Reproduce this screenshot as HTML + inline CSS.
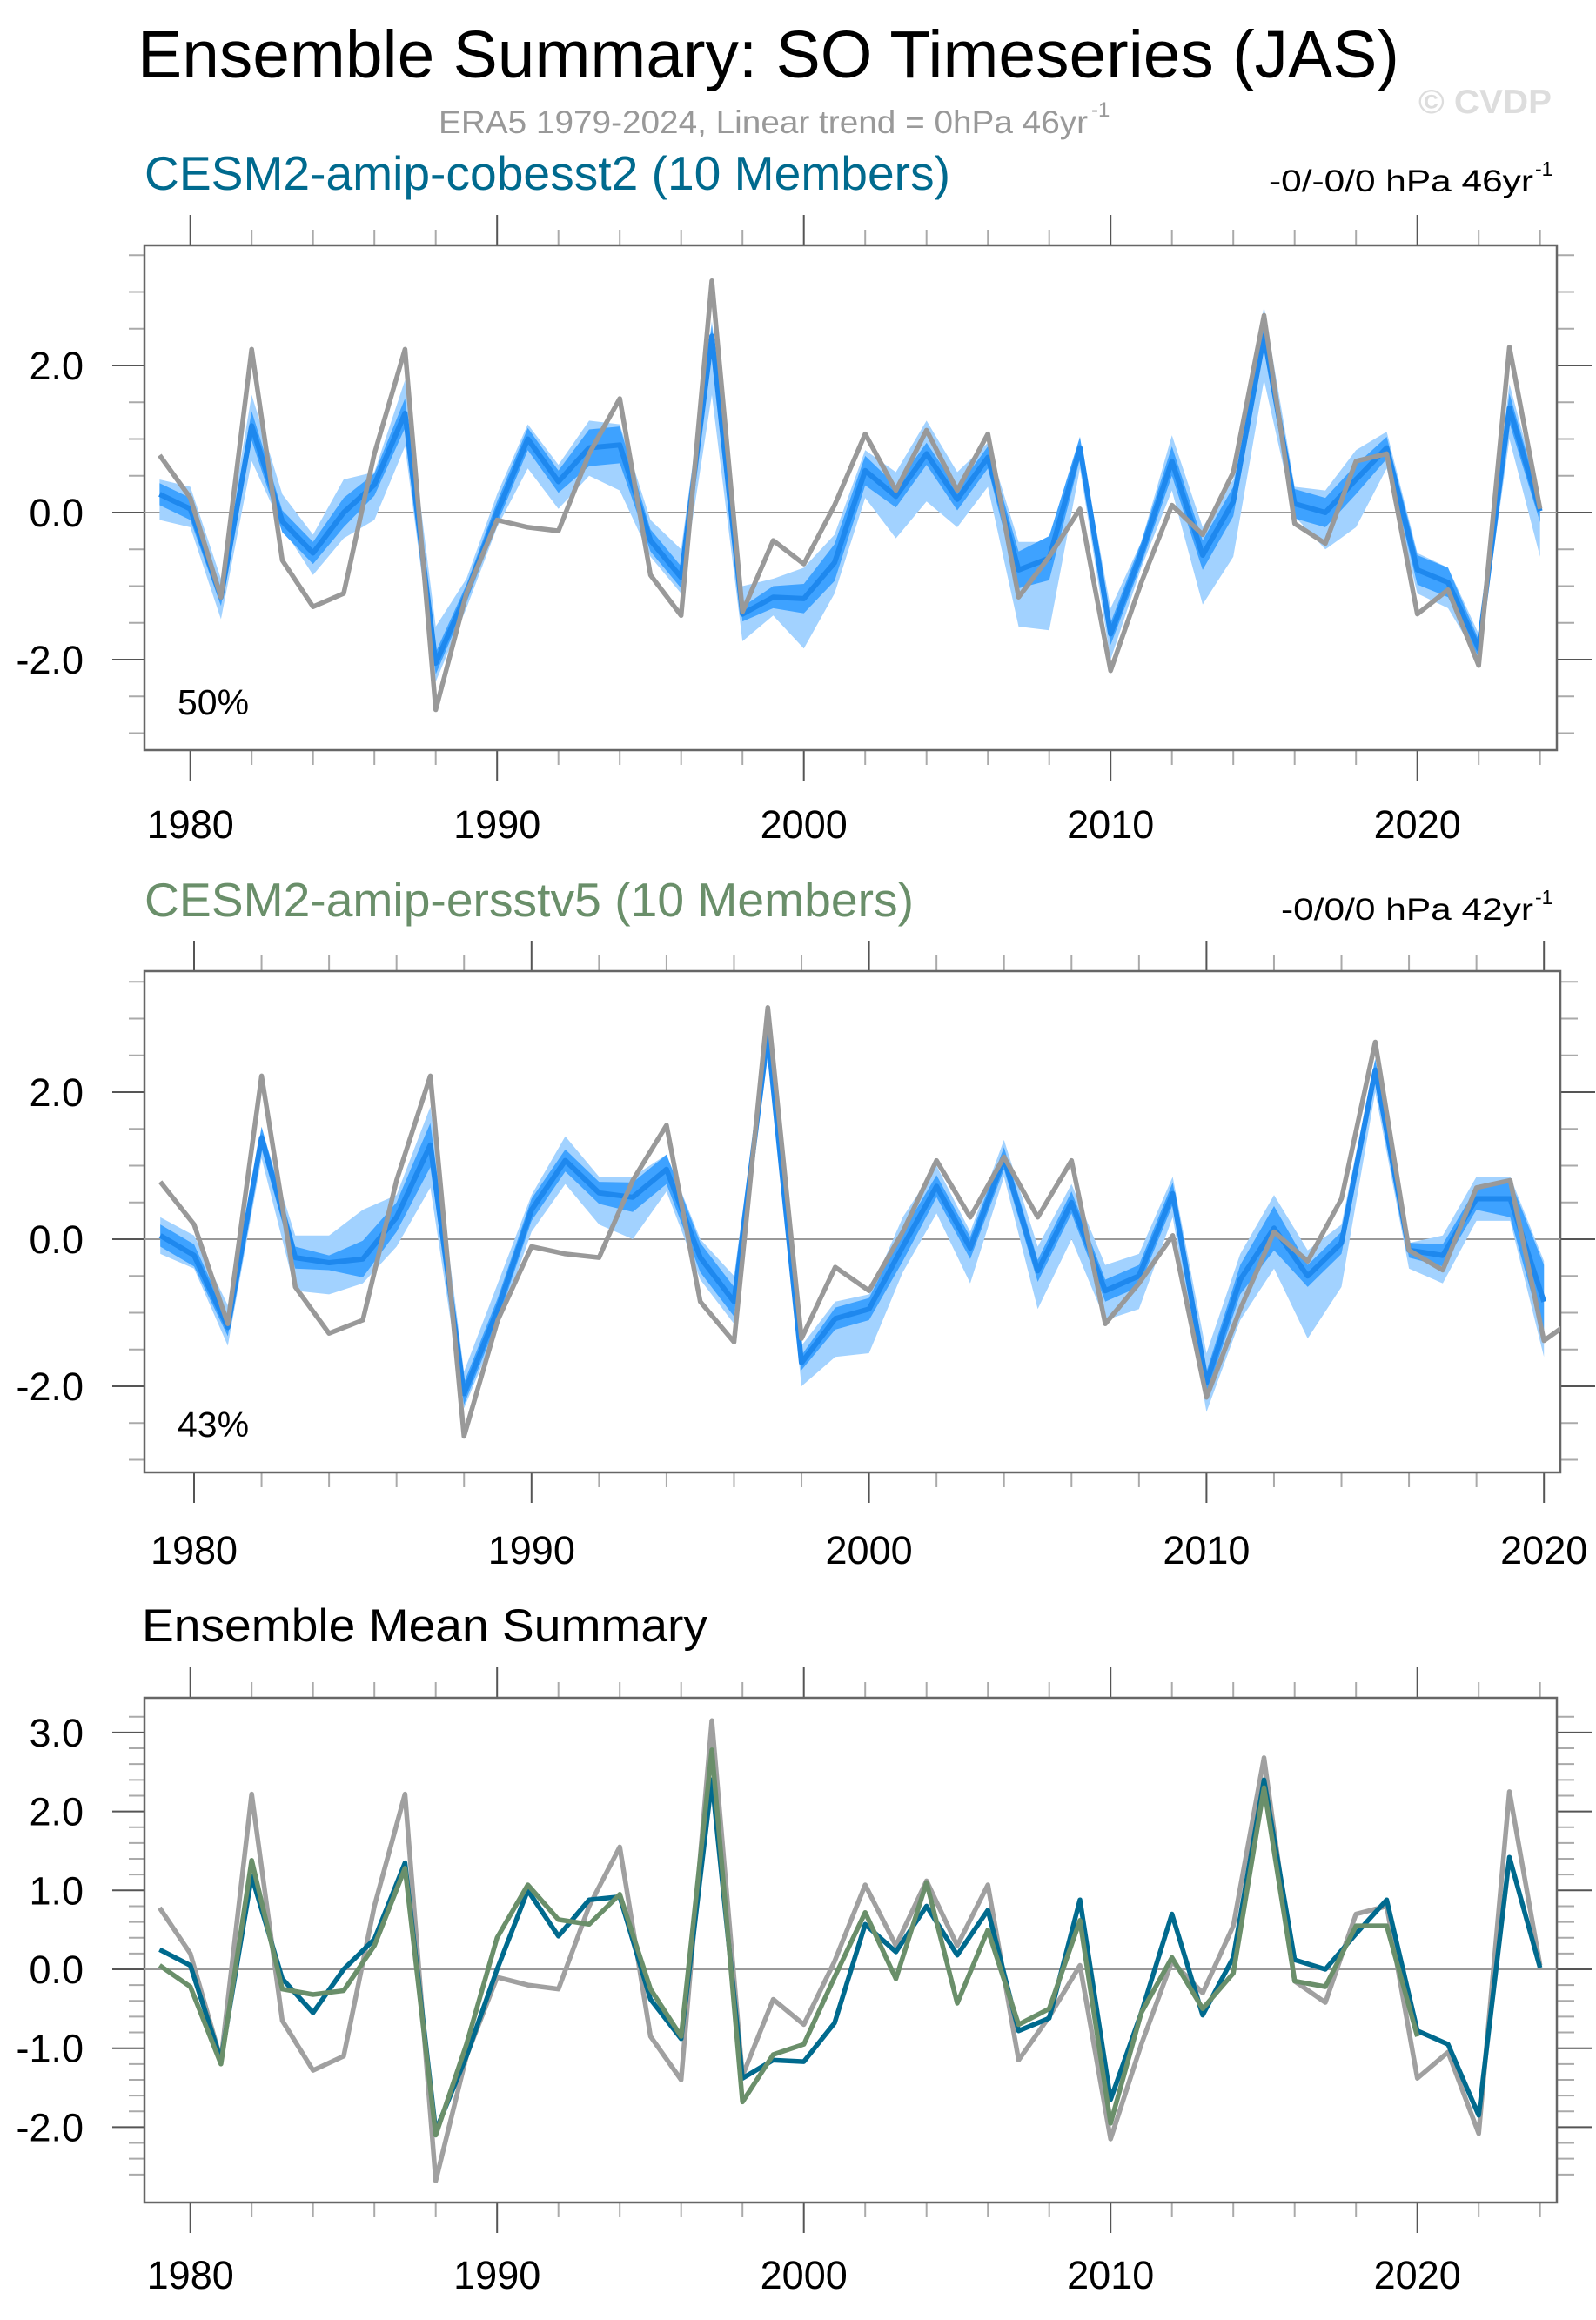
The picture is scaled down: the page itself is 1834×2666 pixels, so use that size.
<!DOCTYPE html>
<html><head><meta charset="utf-8"><style>
html,body{margin:0;padding:0;background:#fff;}
svg{display:block;font-family:"Liberation Sans",Arial,sans-serif;}
</style></head><body>
<svg id="chart" width="1834" height="2666" viewBox="0 0 1834 2666" xmlns="http://www.w3.org/2000/svg">
<text x="158" y="89" font-size="77" textLength="1450" lengthAdjust="spacingAndGlyphs">Ensemble Summary: SO Timeseries (JAS)</text>
<text x="504" y="153" font-size="37" fill="#999" textLength="746" lengthAdjust="spacingAndGlyphs">ERA5 1979-2024, Linear trend = 0hPa 46yr</text>
<text x="1254" y="134" font-size="24" fill="#999">-1</text>
<text x="1630" y="130" font-size="39" font-weight="bold" fill="#dddddd" textLength="153" lengthAdjust="spacingAndGlyphs">© CVDP</text>

<text x="166" y="218" font-size="55" fill="#006a8e" textLength="926" lengthAdjust="spacingAndGlyphs">CESM2-amip-cobesst2 (10 Members)</text>
<text x="1458" y="220" font-size="35" textLength="304" lengthAdjust="spacingAndGlyphs">-0/-0/0 hPa 46yr</text>
<text x="1764" y="202" font-size="23">-1</text>

<text x="166" y="1053" font-size="55" fill="#6a8f6a" textLength="884" lengthAdjust="spacingAndGlyphs">CESM2-amip-ersstv5 (10 Members)</text>
<text x="1472" y="1057" font-size="35" textLength="290" lengthAdjust="spacingAndGlyphs">-0/0/0 hPa 42yr</text>
<text x="1764" y="1039" font-size="23">-1</text>

<text x="163" y="1886" font-size="53" textLength="650" lengthAdjust="spacingAndGlyphs">Ensemble Mean Summary</text>
</svg>
<script>
// ---- data ----
const yearsERA = [1979,1980,1981,1982,1983,1984,1985,1986,1987,1988,1989,1990,1991,1992,1993,1994,1995,1996,1997,1998,1999,2000,2001,2002,2003,2004,2005,2006,2007,2008,2009,2010,2011,2012,2013,2014,2015,2016,2017,2018,2019,2020,2021,2022,2023,2024];
const era5 = [0.78,0.2,-1.15,2.22,-0.65,-1.28,-1.1,0.8,2.22,-2.68,-1.1,-0.1,-0.2,-0.25,0.8,1.55,-0.85,-1.4,3.15,-1.35,-0.38,-0.7,0.1,1.07,0.3,1.12,0.3,1.07,-1.15,-0.6,0.05,-2.15,-0.95,0.1,-0.3,0.55,2.68,-0.15,-0.42,0.7,0.8,-1.38,-1.05,-2.08,2.25,0.05];
const cobeMean = [0.25,0.05,-1.15,1.18,-0.12,-0.55,0.0,0.38,1.35,-2.05,-1.1,0.0,1.0,0.42,0.88,0.92,-0.38,-0.88,2.4,-1.38,-1.15,-1.17,-0.68,0.57,0.22,0.8,0.18,0.75,-0.78,-0.62,0.88,-1.65,-0.55,0.7,-0.58,0.15,2.4,0.12,0.0,0.45,0.88,-0.78,-0.95,-1.85,1.42,0.02];
const cobeOuterHi = [0.45,0.35,-0.9,1.6,0.25,-0.3,0.45,0.55,1.8,-1.55,-0.9,0.25,1.2,0.65,1.25,1.2,-0.1,-0.5,2.6,-1.0,-0.9,-0.75,-0.3,0.85,0.55,1.25,0.55,0.95,-0.4,-0.4,1.0,-1.3,-0.4,1.05,-0.2,0.45,2.8,0.35,0.3,0.85,1.1,-0.55,-0.75,-1.65,1.75,0.2];
const cobeOuterLo = [-0.1,-0.2,-1.45,0.7,-0.2,-0.85,-0.35,-0.1,0.9,-2.3,-1.3,-0.2,0.6,0.05,0.5,0.3,-0.6,-1.1,1.6,-1.75,-1.4,-1.85,-1.1,0.2,-0.35,0.15,-0.2,0.35,-1.55,-1.6,0.6,-2.0,-0.75,0.3,-1.25,-0.6,1.8,-0.05,-0.5,-0.2,0.6,-1.1,-1.3,-2.0,1.0,-0.6];
const cobeInnerHalf = [0.15,0.15,0.12,0.2,0.15,0.15,0.2,0.15,0.2,0.15,0.12,0.15,0.15,0.15,0.25,0.25,0.15,0.15,0.15,0.1,0.15,0.2,0.25,0.2,0.15,0.15,0.15,0.15,0.25,0.3,0.15,0.15,0.15,0.2,0.2,0.2,0.15,0.2,0.2,0.2,0.15,0.2,0.2,0.12,0.2,0.15];
const yearsERS = [1979,1980,1981,1982,1983,1984,1985,1986,1987,1988,1989,1990,1991,1992,1993,1994,1995,1996,1997,1998,1999,2000,2001,2002,2003,2004,2005,2006,2007,2008,2009,2010,2011,2012,2013,2014,2015,2016,2017,2018,2019,2020];
const ersMean = [0.05,-0.22,-1.2,1.38,-0.25,-0.32,-0.27,0.3,1.28,-2.1,-0.95,0.4,1.07,0.63,0.57,0.95,-0.25,-0.85,2.78,-1.68,-1.08,-0.95,-0.1,0.72,-0.12,1.1,-0.43,0.5,-0.7,-0.5,0.62,-1.95,-0.55,0.15,-0.5,-0.05,2.3,-0.15,-0.22,0.55,0.55,-0.85];
const ersOuterHi = [0.3,0.05,-0.9,1.5,0.05,0.05,0.4,0.6,1.8,-1.8,-0.6,0.6,1.4,0.85,0.85,1.15,0.0,-0.5,2.95,-1.45,-0.85,-0.75,0.3,1.0,0.1,1.35,-0.1,0.75,-0.35,-0.2,0.85,-1.55,-0.2,0.6,-0.15,0.2,2.45,-0.05,0.05,0.85,0.85,-0.3];
const ersOuterLo = [-0.2,-0.4,-1.45,1.1,-0.7,-0.75,-0.6,-0.1,0.7,-2.3,-1.2,0.1,0.75,0.2,0.0,0.65,-0.55,-1.15,2.5,-2.0,-1.6,-1.55,-0.45,0.35,-0.6,0.85,-0.95,0.0,-1.1,-0.95,0.3,-2.35,-1.1,-0.4,-1.35,-0.65,2.0,-0.4,-0.6,0.25,0.25,-1.6];
const ersInnerHalf = [0.15,0.15,0.12,0.15,0.15,0.1,0.25,0.2,0.3,0.15,0.15,0.15,0.15,0.15,0.2,0.2,0.2,0.2,0.15,0.1,0.15,0.15,0.2,0.15,0.15,0.15,0.15,0.15,0.15,0.15,0.15,0.15,0.2,0.3,0.15,0.15,0.15,0.1,0.15,0.15,0.25,0.5];
const yLabels12 = ["2.0","0.0","-2.0"];
const yLabelVals12 = [2,0,-2];
const yLabels3 = ["3.0","2.0","1.0","0.0","-1.0","-2.0"];
const yLabelVals3 = [3,2,1,0,-1,-2];
const xLabels = ["1980","1990","2000","2010","2020"];
const xLabelVals = [1980,1990,2000,2010,2020];

const NS = "http://www.w3.org/2000/svg";
const svg = document.getElementById('chart');
function mk(tag, attrs, parent){const e=document.createElementNS(NS,tag);for(const k in attrs)e.setAttribute(k,attrs[k]);(parent||svg).appendChild(e);return e;}

function panel(p){
  const g = mk('g',{});
  
  
  const X = yr => p.x1980 + (yr-1980)*p.pxYear;
  const Y = v => p.y0 - v*p.pxUnit;
  const clipId = p.name+'-clip';
  const cp = mk('clipPath',{id:clipId},g);
  mk('rect',{x:p.L,y:p.T,width:p.R-p.L,height:p.B-p.T},cp);
  for(let yr=p.tickStart; yr<=p.tickEnd; yr+=2){
    const x=X(yr); if(x<p.L-1||x>p.R+1) continue;
    const major = yr%10===0;
    const t = mk('line',{x1:x,x2:x,y1:p.T,y2:p.T-(major?35:18),stroke:major?'#555':'#aaa','stroke-width':2},g);
    
    
    const b = mk('line',{x1:x,x2:x,y1:p.B,y2:p.B+(major?35:17),stroke:major?'#555':'#aaa','stroke-width':2},g);
    
    
  }
  for(let i=Math.ceil(p.ymin/p.yMinor); i*p.yMinor<=p.ymax; i++){
    const v=i*p.yMinor; const y=Y(v);
    const major = Math.abs(v/p.yMajor-Math.round(v/p.yMajor))<1e-6;
    const lt = mk('line',{x1:p.L,x2:p.L-(major?37:18),y1:y,y2:y,stroke:major?'#555':'#aaa','stroke-width':2},g);
    
    
    const rt = mk('line',{x1:p.R,x2:p.R+(major?40:20),y1:y,y2:y,stroke:major?'#555':'#aaa','stroke-width':2},g);
    
    
  }
  const frame = mk('rect',{x:p.L,y:p.T,width:p.R-p.L,height:p.B-p.T,fill:'none',stroke:'#666','stroke-width':2.5},g);
  
  
  const zl = mk('line',{x1:p.L,x2:p.R,y1:Y(0),y2:Y(0),stroke:'#999','stroke-width':2},g);
  
  
  const inner = mk('g',{'clip-path':'url(#'+clipId+')'},g);
  function band(years,hi,lo,fill,name){
    let d='';
    years.forEach((yr,i)=>{d+=(i?'L':'M')+X(yr).toFixed(1)+','+Y(hi[i]).toFixed(1);});
    for(let i=years.length-1;i>=0;i--) d+='L'+X(years[i]).toFixed(1)+','+Y(lo[i]).toFixed(1);
    const e=mk('path',{d:d+'Z',fill:fill},inner);
    
    
  }
  function line(years,vals,color,w,name){
    const pts=years.map((yr,i)=>X(yr).toFixed(1)+','+Y(vals[i]).toFixed(1)).join(' ');
    const e=mk('polyline',{points:pts,fill:'none',stroke:color,'stroke-width':w,'stroke-linejoin':'round'},inner);
    
    
  }
  if(p.bands){
    const b=p.bands;
    band(b.years,b.oHi,b.oLo,'#a2d2ff','outer-spread-band');
    band(b.years,b.mean.map((m,i)=>m+b.half[i]),b.mean.map((m,i)=>m-b.half[i]),'#3ea2ff','inner-spread-band');
  }
  p.lines.forEach(l=>line(l.years,l.vals,l.color,l.w,l.name));
  p.yl.forEach((txt,i)=>{
    const t=mk('text',{x:96,y:Y(p.yv[i])+16,'font-size':45,'text-anchor':'end'},g);
    t.textContent=txt;
    
    
  });
  xLabels.forEach((txt,i)=>{
    const t=mk('text',{x:X(xLabelVals[i]),y:p.xLabY,'font-size':45,'text-anchor':'middle'},g);
    t.textContent=txt;
    
    
  });
  if(p.pct){
    const t=mk('text',{x:204,y:p.B-41,'font-size':41},g);
    t.textContent=p.pct;
    
    
  }
}

panel({name:'panel-cobesst2',L:166,R:1789,T:282,B:862,x1980:218.7,pxYear:35.25,y0:589,pxUnit:84.5,ymin:-3.1,ymax:3.6,yMinor:0.5,yMajor:2,
  tickStart:1978,tickEnd:2026,xLabY:963,pct:'50%',yl:yLabels12,yv:yLabelVals12,
  bands:{years:yearsERA,mean:cobeMean,half:cobeInnerHalf,oHi:cobeOuterHi,oLo:cobeOuterLo},
  lines:[{years:yearsERA,vals:cobeMean,color:'#1e88ee',w:6,name:'cobesst2-ensemble-mean-line'},{years:yearsERA,vals:era5,color:'#999',w:5.5,name:'era5-line'}]});
panel({name:'panel-ersstv5',L:166,R:1793,T:1116,B:1692,x1980:223,pxYear:38.78,y0:1424,pxUnit:84.5,ymin:-3.1,ymax:3.6,yMinor:0.5,yMajor:2,
  tickStart:1978,tickEnd:2022,xLabY:1797,pct:'43%',yl:yLabels12,yv:yLabelVals12,
  bands:{years:yearsERS,mean:ersMean,half:ersInnerHalf,oHi:ersOuterHi,oLo:ersOuterLo},
  lines:[{years:yearsERS,vals:ersMean,color:'#1e88ee',w:6,name:'ersstv5-ensemble-mean-line'},{years:yearsERA,vals:era5,color:'#999',w:5.5,name:'era5-line'}]});
panel({name:'panel-ensemble-mean',L:166,R:1789,T:1951,B:2531,x1980:218.7,pxYear:35.25,y0:2263,pxUnit:90.7,ymin:-2.8,ymax:3.4,yMinor:0.2,yMajor:1,
  tickStart:1978,tickEnd:2026,xLabY:2630,pct:null,yl:yLabels3,yv:yLabelVals3,
  lines:[{years:yearsERA,vals:era5,color:'#a0a0a0',w:5.5,name:'era5-line'},{years:yearsERA,vals:cobeMean,color:'#006a8e',w:5.5,name:'cobesst2-mean-line'},{years:yearsERS,vals:ersMean,color:'#6a8f6a',w:5.5,name:'ersstv5-mean-line'}]});
</script>
</body></html>
